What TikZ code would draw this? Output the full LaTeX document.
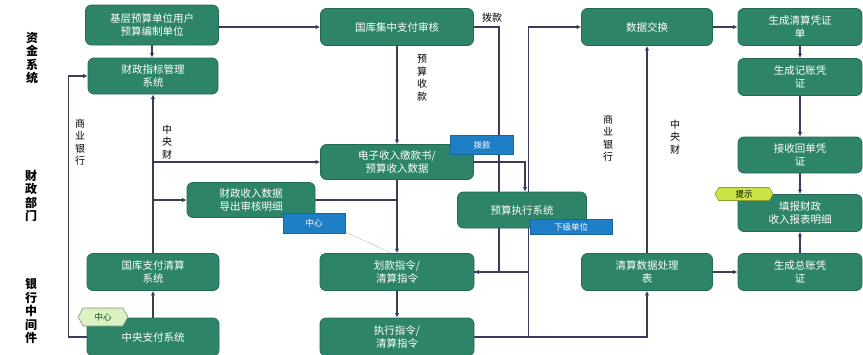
\documentclass[tikz,border=0pt]{standalone}
\usepackage{fontspec}
\setmainfont{Noto Sans CJK SC}
\usetikzlibrary{arrows.meta,shapes.symbols,calc}
\pgfdeclarelayer{bg}
\pgfsetlayers{bg,main}
\definecolor{boxfill}{HTML}{2E8468}
\definecolor{boxline}{HTML}{226B53}
\definecolor{linec}{HTML}{3A3D58}
\definecolor{badgeblue}{HTML}{1F7FC6}
\definecolor{badgeyg}{HTML}{C8E545}
\definecolor{badgelg}{HTML}{DCF1C4}
\tikzset{
  box/.style={draw=boxline, line width=0.8pt, fill=boxfill, rounded corners=6pt, text=white,
    font=\fontsize{10.5}{13}\selectfont, align=center, inner sep=1pt},
  bbadge/.style={fill=badgeblue, draw=badgeblue!80!black, line width=0.4pt, text=white,
    font=\fontsize{8.5}{10}\selectfont, inner sep=1pt},
  hexbadge/.style={signal, signal to=west and east, signal pointer angle=120,
    line width=0.6pt, inner sep=1pt, font=\fontsize{8.5}{10}\selectfont},
  lanelabel/.style={font=\bfseries\fontsize{12}{13.5}\selectfont, align=center, inner sep=0pt, text=black},
  sidelabel/.style={font=\fontsize{10}{12.5}\selectfont, align=center, inner sep=0pt, text=black},
  conn/.style={draw=linec, line width=1.3pt},
  arr/.style={conn, -{Latex[length=4.5pt,width=4.5pt]}}
}
\begin{document}
\begin{tikzpicture}[x=1pt,y=-1pt]
\useasboundingbox (0,0) rectangle (863,354);

% lane labels
\node[lanelabel] (lab1) at (32,58) {资\\金\\系\\统};
\node[lanelabel] (lab2) at (31,196) {财\\政\\部\\门};
\node[lanelabel] (lab3) at (31,311) {银\\行\\中\\间\\件};

% boxes
\node[box, minimum width=133pt, minimum height=40pt] (b1) at (152,25) {基层预算单位用户\\预算编制单位};
\node[box, minimum width=130pt, minimum height=36pt] (b2) at (153,76) {财政指标管理\\系统};
\node[box, minimum width=153pt, minimum height=37pt] (b3) at (397,27) {国库集中支付审核};
\node[box, minimum width=153pt, minimum height=35pt] (b4) at (397,162) {电子收入缴款书/\\预算收入数据};
\node[box, minimum width=128pt, minimum height=35pt] (b5) at (251,200) {财政收入数据\\导出审核明细};
\node[box, minimum width=129pt, minimum height=36pt] (b6) at (522,210) {预算执行系统};
\node[box, minimum width=154pt, minimum height=37pt] (b7) at (397,272) {划款指令/\\清算指令};
\node[box, minimum width=154pt, minimum height=38pt] (b8) at (397,337) {执行指令/\\清算指令};
\node[box, minimum width=132pt, minimum height=37pt] (b9) at (153,272) {国库支付清算\\系统};
\node[box, minimum width=132pt, minimum height=38pt] (b10) at (153,337) {中央支付系统};
\node[box, minimum width=131pt, minimum height=37pt] (b11) at (647,27) {数据交换};
\node[box, minimum width=131pt, minimum height=37pt] (b12) at (647,272) {清算数据处理\\表};
\node[box, minimum width=124pt, minimum height=37pt] (r1) at (800,27) {生成清算凭证\\单};
\node[box, minimum width=124pt, minimum height=37pt] (r2) at (800,77) {生成记账凭\\证};
\node[box, minimum width=124pt, minimum height=36pt] (r3) at (800,155) {接收回单凭\\证};
\node[box, minimum width=124pt, minimum height=37pt] (r4) at (800,213) {填报财政\\收入报表明细};
\node[box, minimum width=124pt, minimum height=37pt] (r5) at (800,272) {生成总账凭\\证};

% badges
\node[bbadge, minimum width=63pt, minimum height=19pt] (bk) at (482,145) {拨款};
\node[bbadge, minimum width=62pt, minimum height=20pt] (zx) at (314,223) {中心};
\node[bbadge, minimum width=82pt, minimum height=15pt] (xj) at (571,227) {下级单位};
\node[hexbadge, fill=badgeyg, draw=badgeyg!70!black, text=black, minimum width=58pt, minimum height=13pt] (ts) at (744,194) {提示};
\node[hexbadge, fill=badgelg, draw=badgelg!60!black, text=green!30!black, minimum width=50pt, minimum height=18pt] (gz) at (103,317) {中心};

% side labels
\node[sidelabel] (s1) at (80,142) {商\\业\\银\\行};
\node[sidelabel] (s2) at (167,142) {中\\央\\财};
\node[sidelabel] (s3) at (422,78) {预\\算\\收\\款};
\node[sidelabel, anchor=west] (s4) at (482,18) {拨款};
\node[sidelabel] (s5) at (608,138) {商\\业\\银\\行};
\node[sidelabel] (s6) at (675,137) {中\\央\\财};

\coordinate (cx6) at (525,0);

\begin{pgfonlayer}{bg}
% faint guide line
\draw[gray!45, line width=0.5pt] (b5.south east) -- ($(b7.north)+(-6,0)$);
% left column
\draw[arr] (b1.south) -- (b1.south |- b2.north);
\draw[arr] (b10.west) -- ++(-18,0) |- (b2.west);
\draw[arr] (b10.north) -- (b9.south);
\draw[arr] (b9.north) -- (b2.south);
\draw[arr] (b2.south |- b4.west) -- (b4.west);
\draw[arr] (b2.south |- b5.west) -- (b5.west);
% top row
\draw[arr] (b1.east |- b3.west) -- (b3.west);
\draw[arr] (b3.south) -- (b4.north);
\draw[arr] (b4.south) -- (b7.north);
\draw[conn] (b5.east) -- (b5.east -| b4.south);
\draw[arr] (b7.south) -- (b8.north);
% right-middle connectors
\draw[arr] (b3.east) -- ++(25,0) |- (b7.east);
\draw[conn] (b7.east) -- ++(54,0);
\draw[arr] (b8.east) -- ++(54,0) |- (b11.west);
\draw[arr] (b8.east) -| (b12.south);
\draw[arr] (b12.north) -- (b11.south);
\draw[arr] (b4.east) -| (cx6 |- b6.north);
% right column
\draw[arr] (b11.east) -- (r1.west);
\draw[arr] (r1.south) -- (r2.north);
\draw[arr] (r2.south) -- (r3.north);
\draw[arr] (r3.south) -- (r4.north);
\draw[arr] (r5.north) -- (r4.south);
\draw[arr] (b12.east) -- (r5.west);
\end{pgfonlayer}
\end{tikzpicture}
\end{document}
